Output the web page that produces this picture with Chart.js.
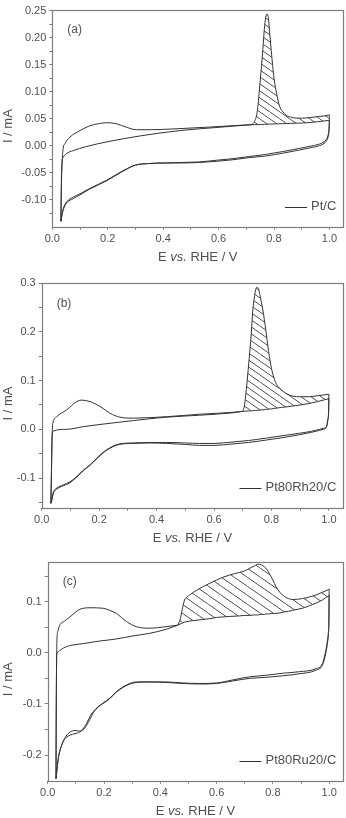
<!DOCTYPE html>
<html>
<head>
<meta charset="utf-8">
<script src="https://cdn.jsdelivr.net/npm/chart.js"></script>
<style>
  html, body { margin: 0; padding: 0; background: #fff; }
  #wrap { position: relative; width: 346px; height: 818px; }
  canvas { position: absolute; left: 0; }
</style>
</head>
<body>
<div id="wrap">
  <canvas id="cvA" width="346" height="270" style="top:0px"></canvas>
  <canvas id="cvB" width="346" height="280" style="top:270px"></canvas>
  <canvas id="cvC" width="346" height="268" style="top:550px"></canvas>
</div>
<script>
// ---- shared axis ticks ----
const xTicks = [0, 0.1, 0.2, 0.3, 0.4, 0.5, 0.6, 0.7, 0.8, 0.9, 1.0];
const xLabels = ['0.0', '', '0.2', '', '0.4', '', '0.6', '', '0.8', '', '1.0'];

// ---- (a) Pt/C ----
const aYTicks = [-0.125, -0.1, -0.075, -0.05, -0.025, 0, 0.025, 0.05, 0.075, 0.1, 0.125, 0.15, 0.175, 0.2, 0.225, 0.25];
const aYLabels = ['', '-0.10', '', '-0.05', '', '0.00', '', '0.05', '', '0.10', '', '0.15', '', '0.20', '', '0.25'];
// first scan, H region blocked by CO
const aBlockedE = [0.031, 0.032, 0.033, 0.035, 0.04, 0.05, 0.076, 0.12, 0.196, 0.316, 0.46, 0.6, 0.72];
const aBlockedI = [-0.14, -0.10, -0.06, -0.032, -0.021, -0.015, -0.009, -0.002, 0.007, 0.018, 0.028, 0.034, 0.039];
// second scan, H desorption
const aBumpE = [0.031, 0.032, 0.034, 0.038, 0.046, 0.064, 0.1, 0.136, 0.17, 0.196, 0.232, 0.268, 0.304, 0.352, 0.436, 0.55, 0.65, 0.72];
const aBumpI = [-0.14, -0.1, -0.05, -0.01, 0.004, 0.016, 0.028, 0.037, 0.041, 0.0425, 0.0406, 0.034, 0.0296, 0.0296, 0.031, 0.034, 0.037, 0.039];
// CO stripping peak and the baseline under it
const aStripE = [0.72, 0.73, 0.74, 0.75, 0.76, 0.765, 0.77, 0.775, 0.78, 0.785, 0.79, 0.80, 0.81, 0.82, 0.83, 0.845, 0.86, 0.88, 0.90, 0.93, 0.96, 0.98, 1.0];
const aStripI = [0.039, 0.045, 0.065, 0.12, 0.18, 0.215, 0.238, 0.244, 0.235, 0.205, 0.176, 0.125, 0.095, 0.073, 0.064, 0.056, 0.053, 0.051, 0.051, 0.052, 0.054, 0.055, 0.057];
const aBaseI = [0.039, 0.039, 0.039, 0.0392, 0.0394, 0.0395, 0.0396, 0.0397, 0.0398, 0.0399, 0.040, 0.0402, 0.0404, 0.0406, 0.0408, 0.041, 0.0413, 0.0417, 0.042, 0.043, 0.0445, 0.0457, 0.047];
// cathodic sweeps
const aCathE = [1.0, 0.9995, 0.998, 0.994, 0.988, 0.98, 0.964, 0.93, 0.892, 0.83, 0.772, 0.712, 0.652, 0.592, 0.532, 0.47, 0.41, 0.35, 0.3, 0.256, 0.196, 0.136, 0.1, 0.076, 0.052, 0.04, 0.034, 0.031];
const aCath1I = [0.057, 0.045, 0.03, 0.018, 0.011, 0.007, 0.003, -0.001, -0.005, -0.011, -0.016, -0.02, -0.024, -0.027, -0.030, -0.031, -0.032, -0.033, -0.036, -0.046, -0.064, -0.079, -0.089, -0.095, -0.104, -0.116, -0.13, -0.14];
const aCath2I = [0.047, 0.036, 0.024, 0.014, 0.008, 0.004, 0.0, -0.004, -0.008, -0.014, -0.019, -0.022, -0.026, -0.029, -0.031, -0.032, -0.032, -0.033, -0.036, -0.047, -0.065, -0.08, -0.091, -0.098, -0.106, -0.118, -0.131, -0.14];

// ---- (b) Pt80Rh20/C ----
const bYTicks = [-0.15, -0.1, -0.05, 0, 0.05, 0.1, 0.15, 0.2, 0.25, 0.3];
const bYLabels = ['', '-0.1', '', '0.0', '', '0.1', '', '0.2', '', '0.3'];
const bBlockedE = [0.032, 0.034, 0.036, 0.04, 0.087, 0.145, 0.203, 0.319, 0.435, 0.55, 0.666, 0.70];
const bBlockedI = [-0.152, -0.09, -0.02, -0.0035, 0.0, 0.0055, 0.010, 0.018, 0.025, 0.029, 0.034, 0.037];
const bBumpE = [0.032, 0.033, 0.035, 0.037, 0.04, 0.052, 0.087, 0.122, 0.139, 0.168, 0.203, 0.238, 0.272, 0.319, 0.435, 0.55, 0.666, 0.70];
const bBumpI = [-0.152, -0.12, -0.05, 0.0, 0.015, 0.026, 0.04, 0.057, 0.06, 0.057, 0.047, 0.033, 0.025, 0.023, 0.026, 0.031, 0.035, 0.037];
const bStripE = [0.70, 0.705, 0.71, 0.72, 0.73, 0.735, 0.74, 0.745, 0.75, 0.755, 0.76, 0.77, 0.78, 0.79, 0.80, 0.81, 0.82, 0.835, 0.85, 0.875, 0.90, 0.93, 0.96, 1.0];
const bStripI = [0.037, 0.046, 0.068, 0.13, 0.2, 0.245, 0.27, 0.287, 0.292, 0.288, 0.275, 0.245, 0.205, 0.16, 0.125, 0.103, 0.09, 0.081, 0.074, 0.068, 0.067, 0.067, 0.069, 0.072];
const bBaseI = [0.037, 0.037, 0.0373, 0.0377, 0.038, 0.0383, 0.0386, 0.0389, 0.039, 0.0393, 0.0396, 0.040, 0.041, 0.0415, 0.042, 0.043, 0.0437, 0.045, 0.046, 0.048, 0.050, 0.053, 0.057, 0.063];
const bCathE = [1.0, 0.9995, 0.999, 0.996, 0.991, 0.98, 0.968, 0.94, 0.898, 0.84, 0.782, 0.72, 0.666, 0.6, 0.55, 0.5, 0.435, 0.38, 0.319, 0.27, 0.226, 0.203, 0.168, 0.145, 0.122, 0.098, 0.075, 0.052, 0.04, 0.035, 0.032];
const bCath1I = [0.072, 0.06, 0.04, 0.02, 0.0055, 0.002, 0.0, -0.004, -0.008, -0.013, -0.018, -0.023, -0.026, -0.029, -0.029, -0.028, -0.027, -0.027, -0.028, -0.030, -0.042, -0.053, -0.073, -0.084, -0.097, -0.108, -0.114, -0.121, -0.13, -0.145, -0.152];
const bCath2I = [0.063, 0.052, 0.036, 0.018, 0.004, 0.0, -0.002, -0.006, -0.011, -0.017, -0.022, -0.027, -0.030, -0.033, -0.033, -0.031, -0.029, -0.028, -0.029, -0.031, -0.043, -0.054, -0.074, -0.085, -0.098, -0.11, -0.116, -0.123, -0.132, -0.146, -0.152];

// ---- (c) Pt80Ru20/C ----
const cYTicks = [-0.2, -0.15, -0.1, -0.05, 0, 0.05, 0.1, 0.15];
const cYLabels = ['-0.2', '', '-0.1', '', '0.0', '', '0.1', ''];
const cBlockedE = [0.0295, 0.03, 0.031, 0.032, 0.038, 0.044, 0.067, 0.126, 0.185, 0.244, 0.303, 0.362, 0.421, 0.462];
const cBlockedI = [-0.246, -0.15, -0.05, -0.004, 0.002, 0.005, 0.012, 0.018, 0.023, 0.027, 0.033, 0.038, 0.046, 0.054];
const cBumpE = [0.0295, 0.03, 0.031, 0.0325, 0.036, 0.044, 0.06, 0.079, 0.1, 0.114, 0.15, 0.197, 0.22, 0.244, 0.262, 0.28, 0.315, 0.36, 0.42, 0.462];
const cBumpI = [-0.246, -0.16, -0.06, 0.02, 0.042, 0.055, 0.062, 0.070, 0.080, 0.085, 0.088, 0.087, 0.083, 0.077, 0.069, 0.061, 0.051, 0.048, 0.051, 0.054];
const cStripE = [0.462, 0.47, 0.478, 0.486, 0.495, 0.504, 0.52, 0.551, 0.58, 0.599, 0.62, 0.646, 0.681, 0.70, 0.717, 0.735, 0.746, 0.758, 0.77, 0.78, 0.787, 0.80, 0.811, 0.825, 0.841, 0.855, 0.87, 0.905, 0.93, 0.953, 0.975, 1.0];
const cStripI = [0.054, 0.064, 0.085, 0.103, 0.109, 0.113, 0.119, 0.129, 0.137, 0.142, 0.147, 0.152, 0.157, 0.160, 0.165, 0.170, 0.173, 0.172, 0.168, 0.162, 0.155, 0.142, 0.129, 0.118, 0.11, 0.106, 0.104, 0.106, 0.109, 0.113, 0.118, 0.124];
const cBaseI = [0.054, 0.056, 0.058, 0.060, 0.061, 0.062, 0.063, 0.065, 0.067, 0.069, 0.070, 0.071, 0.072, 0.073, 0.073, 0.074, 0.074, 0.075, 0.075, 0.076, 0.076, 0.077, 0.077, 0.078, 0.080, 0.081, 0.083, 0.087, 0.092, 0.097, 0.103, 0.112];
const cCathE = [1.0, 0.9995, 0.999, 0.997, 0.994, 0.988, 0.976, 0.953, 0.894, 0.835, 0.776, 0.717, 0.658, 0.6, 0.54, 0.48, 0.421, 0.362, 0.315, 0.28, 0.244, 0.22, 0.197, 0.18, 0.162, 0.15, 0.138, 0.125, 0.114, 0.097, 0.079, 0.065, 0.055, 0.044, 0.038, 0.034, 0.0295];
const cCath1I = [0.124, 0.112, 0.07, 0.04, 0.025, 0.005, -0.021, -0.031, -0.037, -0.040, -0.044, -0.047, -0.053, -0.059, -0.06, -0.059, -0.057, -0.057, -0.057, -0.063, -0.076, -0.09, -0.099, -0.105, -0.115, -0.125, -0.138, -0.149, -0.155, -0.158, -0.161, -0.166, -0.174, -0.19, -0.205, -0.223, -0.246];
const cCath2I = [0.112, 0.1, 0.065, 0.036, 0.02, 0.0, -0.024, -0.034, -0.041, -0.045, -0.048, -0.05, -0.055, -0.06, -0.061, -0.06, -0.058, -0.057, -0.058, -0.064, -0.077, -0.089, -0.098, -0.106, -0.117, -0.13, -0.142, -0.151, -0.153, -0.152, -0.155, -0.163, -0.173, -0.19, -0.205, -0.223, -0.246];

const LINE = '#333';
const AXIS = '#7d7d7d';
const TXT = '#4f4f4f';
const FONT = '"Liberation Sans", Arial, sans-serif';

Chart.defaults.font.family = FONT;

const pts = (E, I) => E.map((e, i) => ({ x: e, y: I[i] }));

// diagonal hatching, top-left to bottom-right
function hatch(w, h) {
  const c = document.createElement('canvas');
  c.width = w; c.height = h;
  const g = c.getContext('2d');
  g.strokeStyle = '#3c3c3c';
  g.lineWidth = 0.9;
  g.beginPath();
  for (const dx of [-w, 0, w]) { g.moveTo(dx, 0); g.lineTo(dx + w, h); }
  g.stroke();
  return g.createPattern(c, 'repeat');
}

const line = (data, extra) => Object.assign({
  data, showLine: true, borderColor: LINE, borderWidth: 1, pointRadius: 0,
  fill: false, cubicInterpolationMode: 'monotone'
}, extra || {});

// frame, panel tag, legend and axis titles
const decor = {
  id: 'decor',
  afterDraw(chart, args, o) {
    const { ctx, chartArea: a } = chart;
    ctx.save();
    ctx.strokeStyle = AXIS;
    ctx.lineWidth = 1.2;
    const l = Math.round(a.left) + 0.5, t = Math.round(a.top) + 0.5;
    ctx.strokeRect(l, t, Math.round(a.right) - l + 0.5, Math.round(a.bottom) - t + 0.5);

    ctx.fillStyle = TXT;
    ctx.textBaseline = 'middle';
    ctx.font = '12px ' + FONT;
    ctx.textAlign = 'left';
    ctx.fillText(o.tag, a.left + 15, a.top + 20);

    ctx.font = '13px ' + FONT;
    ctx.textAlign = 'right';
    const ty = a.bottom - 20, tx = a.right - 7;
    ctx.fillText(o.name, tx, ty);
    const w = ctx.measureText(o.name).width;
    ctx.strokeStyle = LINE;
    ctx.lineWidth = 1;
    ctx.beginPath();
    ctx.moveTo(tx - w - 26, Math.round(ty) + 0.5);
    ctx.lineTo(tx - w - 4, Math.round(ty) + 0.5);
    ctx.stroke();

    // x title with italic "vs."
    const parts = [['E ', ''], ['vs.', 'italic '], [' RHE / V', '']];
    let total = 0;
    for (const p of parts) { ctx.font = p[1] + '13px ' + FONT; total += ctx.measureText(p[0]).width; }
    let x = (a.left + a.right) / 2 - total / 2;
    ctx.textAlign = 'left';
    for (const p of parts) {
      ctx.font = p[1] + '13px ' + FONT;
      ctx.fillText(p[0], x, a.bottom + 31);
      x += ctx.measureText(p[0]).width;
    }

    ctx.font = '13px ' + FONT;
    ctx.translate(8, (a.top + a.bottom) / 2 + 8);
    ctx.rotate(-Math.PI / 2);
    ctx.textAlign = 'center';
    ctx.fillText('I / mA', 0, 0);
    ctx.restore();
  }
};

function makePanel(id, p) {
  new Chart(document.getElementById(id), {
    type: 'scatter',
    data: {
      datasets: [
        line(pts(p.blockedE, p.blockedI)),
        line(pts(p.stripE, p.stripI), { fill: 2, backgroundColor: hatch(p.hatch[0], p.hatch[1]) }),
        line(pts(p.stripE, p.baseI)),
        line(pts(p.bumpE, p.bumpI)),
        line(pts(p.cathE, p.cath1I)),
        line(pts(p.cathE, p.cath2I))
      ]
    },
    options: {
      responsive: false,
      animation: false,
      events: [],
      layout: { padding: { top: p.top, right: 2.7, left: 0, bottom: 0 } },
      plugins: {
        legend: { display: false },
        tooltip: { enabled: false },
        decor: { tag: p.tag, name: p.name }
      },
      scales: {
        x: {
          type: 'linear', min: 0, max: 1.05,
          afterBuildTicks: s => { s.ticks = xTicks.map(v => ({ value: v })); },
          afterFit: s => { s.height = p.xAxisH; },
          border: { display: false },
          grid: { drawOnChartArea: false, tickLength: 3, tickColor: AXIS },
          ticks: {
            autoSkip: false, maxRotation: 0, padding: 3, color: TXT,
            font: { size: 11 }, callback: (v, i) => xLabels[i]
          }
        },
        y: {
          type: 'linear', min: p.yMin, max: p.yMax,
          afterBuildTicks: s => { s.ticks = p.yTicks.map(v => ({ value: v })); },
          afterFit: s => { s.width = p.yAxisW; },
          border: { display: false },
          grid: { drawOnChartArea: false, tickLength: 3, tickColor: AXIS },
          ticks: {
            autoSkip: false, padding: 3, color: TXT,
            font: { size: 11 }, callback: (v, i) => p.yLabels[i]
          }
        }
      }
    },
    plugins: [decor]
  });
}

makePanel('cvA', {
  tag: '(a)', name: 'Pt/C', top: 9, yAxisW: 52.3, xAxisH: 43.3, yMin: -0.150, yMax: 0.252,
  yTicks: aYTicks, yLabels: aYLabels, hatch: [10, 7],
  blockedE: aBlockedE, blockedI: aBlockedI, bumpE: aBumpE, bumpI: aBumpI,
  stripE: aStripE, stripI: aStripI, baseI: aBaseI,
  cathE: aCathE, cath1I: aCath1I, cath2I: aCath2I
});
makePanel('cvB', {
  tag: '(b)', name: 'Pt80Rh20/C', top: 13.3, yAxisW: 41.7, xAxisH: 42.3, yMin: -0.161, yMax: 0.30,
  yTicks: bYTicks, yLabels: bYLabels, hatch: [10, 7],
  blockedE: bBlockedE, blockedI: bBlockedI, bumpE: bBumpE, bumpI: bBumpI,
  stripE: bStripE, stripI: bStripI, baseI: bBaseI,
  cathE: bCathE, cath1I: bCath1I, cath2I: bCath2I
});
makePanel('cvC', {
  tag: '(c)', name: 'Pt80Ru20/C', top: 11.7, yAxisW: 47.7, xAxisH: 37.3, yMin: -0.25, yMax: 0.178,
  yTicks: cYTicks, yLabels: cYLabels, hatch: [13, 9],
  blockedE: cBlockedE, blockedI: cBlockedI, bumpE: cBumpE, bumpI: cBumpI,
  stripE: cStripE, stripI: cStripI, baseI: cBaseI,
  cathE: cCathE, cath1I: cCath1I, cath2I: cCath2I
});
</script>
</body>
</html>
